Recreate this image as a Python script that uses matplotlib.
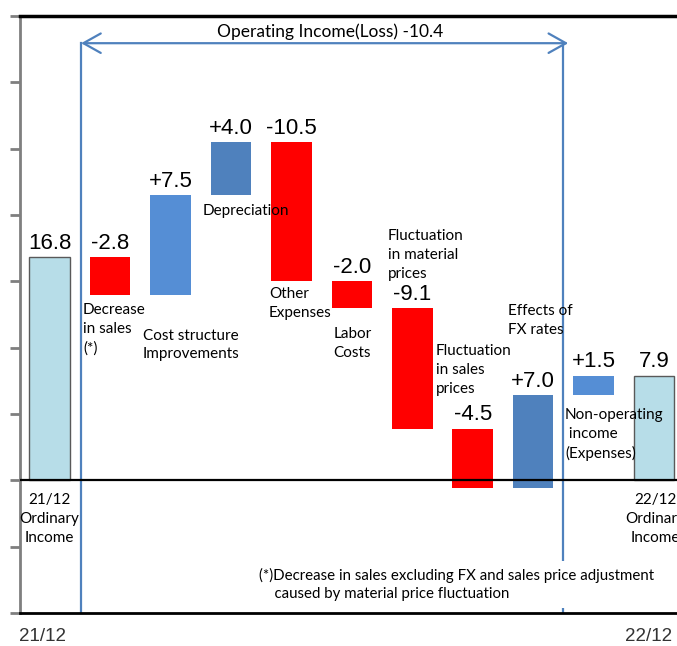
import matplotlib
matplotlib.use("Agg")
import matplotlib.pyplot as plt
import numpy as np

# ---------------- data ----------------
categories = ["21/12\nOrdinary\nIncome", "Decrease\nin sales\n(*)", "Cost structure\nImprovements",
              "Depreciation", "Other\nExpenses", "Labor\nCosts",
              "Fluctuation\nin material\nprices", "Fluctuation\nin sales\nprices",
              "Effects of\nFX rates", "Non-operating\n income\n(Expenses)", "22/12\nOrdinary\nIncome"]
start_value = 16.8
changes = [-2.8, 7.5, 4.0, -10.5, -2.0, -9.1, -4.5, 7.0, 1.5]
end_value = 7.9
value_labels = ["16.8", "-2.8", "+7.5", "+4.0", "-10.5", "-2.0", "-9.1", "-4.5", "+7.0", "+1.5", "7.9"]
operating_title = "Operating Income(Loss) -10.4"
period_labels = ["21/12", "22/12"]
footnote = "(*)Decrease in sales excluding FX and sales price adjustment\n    caused by material price fluctuation"

# ---------------- styles / layout ----------------
RED = "#FF0000"
BLUE_L = "#558ED5"
BLUE_D = "#4F81BD"
END_C = "#B7DDE8"
change_colors = [RED, BLUE_L, BLUE_D, RED, RED, RED, RED, BLUE_D, BLUE_L]
ARROW_C = "#4F81BD"

# category label placement (x, y, ha) in data coords
cat_pos = [(0.0, -2.9, "center"), (0.55, 11.4, "left"), (1.545, 10.2, "left"),
           (2.537, 20.27, "left"), (3.63, 13.3, "left"), (4.70, 10.3, "left"),
           (5.60, 16.96, "left"), (6.39, 8.29, "left"), (7.584, 12.06, "left"),
           (8.527, 3.47, "left"), (10.02, -2.9, "center")]

TXT = "Lato"

fig = plt.figure(figsize=(6.77, 6.46), dpi=100)
ax = fig.add_axes([20 / 677, 33 / 646, 657 / 677, 597 / 646])

n = len(changes)
x = np.arange(n + 2)
running = start_value + np.cumsum(changes)
prev = np.concatenate([[start_value], running[:-1]])
bottoms = np.concatenate([[0.0], np.minimum(prev, running), [0.0]])
heights = np.concatenate([[start_value], np.abs(changes), [end_value]])
tops = bottoms + heights
colors = [END_C] + change_colors + [END_C]
edges = ["#595959"] + change_colors + ["#595959"]
lws = [1.0] + [0.0] * n + [1.0]

ax.bar(x, heights, bottom=bottoms, width=0.67, color=colors, edgecolor=edges,
       linewidth=lws, zorder=2)

ax.axhline(0, color="black", lw=1.6, zorder=3)

# value labels
for xi, t, lab in zip(x, tops, value_labels):
    ax.text(xi, t + 0.25, lab, ha="center", va="bottom", fontsize=16,
            family="Liberation Sans", color="black", zorder=4)

# category labels
for (cx, cy, ha), lab in zip(cat_pos, categories):
    ax.text(cx, cy, lab, ha=ha, va="center", fontsize=11, family=TXT,
            linespacing=1.45, color="black", zorder=4, clip_on=False)

# operating income bracket
yA = 32.95
ax.plot([0.52, 0.52], [yA, -10], color=ARROW_C, lw=1.6, zorder=1)
ax.plot([8.49, 8.49], [yA, -10], color=ARROW_C, lw=1.6, zorder=1)
ax.annotate("", xy=(0.52, yA), xytext=(8.58, yA),
            arrowprops=dict(arrowstyle="<->,head_length=1.25,head_width=0.7",
                            color=ARROW_C, lw=1.6, shrinkA=0, shrinkB=0,
                            mutation_scale=10), zorder=3)
ax.text(4.64, 33.85, operating_title, ha="center", va="center", fontsize=12.5,
        family=TXT, zorder=4)

# footnote
ax.text(3.464, -7.87, footnote, ha="left", va="center", fontsize=10.8, family=TXT,
        linespacing=1.35, zorder=5,
        bbox=dict(facecolor="white", edgecolor="none", pad=5))

# period labels below the axis
ax.text(-0.12, -11.75, period_labels[0], ha="center", va="center", fontsize=13.5,
        family="Liberation Sans", color="#333333", clip_on=False)
ax.text(9.91, -11.75, period_labels[1], ha="center", va="center", fontsize=13.5,
        family="Liberation Sans", color="#333333", clip_on=False)

ax.set_xlim(-0.491, 10.38)
ax.set_ylim(-10, 35)
ax.set_yticks(np.arange(-10, 36, 5))
ax.set_yticklabels([])
ax.set_xticks([])
ax.tick_params(axis="y", direction="out", length=7, width=2, color="#7F7F7F")
ax.spines["left"].set_color("#7F7F7F")
ax.spines["left"].set_linewidth(2)
ax.spines["top"].set_color("black")
ax.spines["top"].set_linewidth(2.5)
ax.spines["bottom"].set_color("black")
ax.spines["bottom"].set_linewidth(2)
ax.spines["right"].set_visible(False)

fig.savefig("out.png", dpi=100)
